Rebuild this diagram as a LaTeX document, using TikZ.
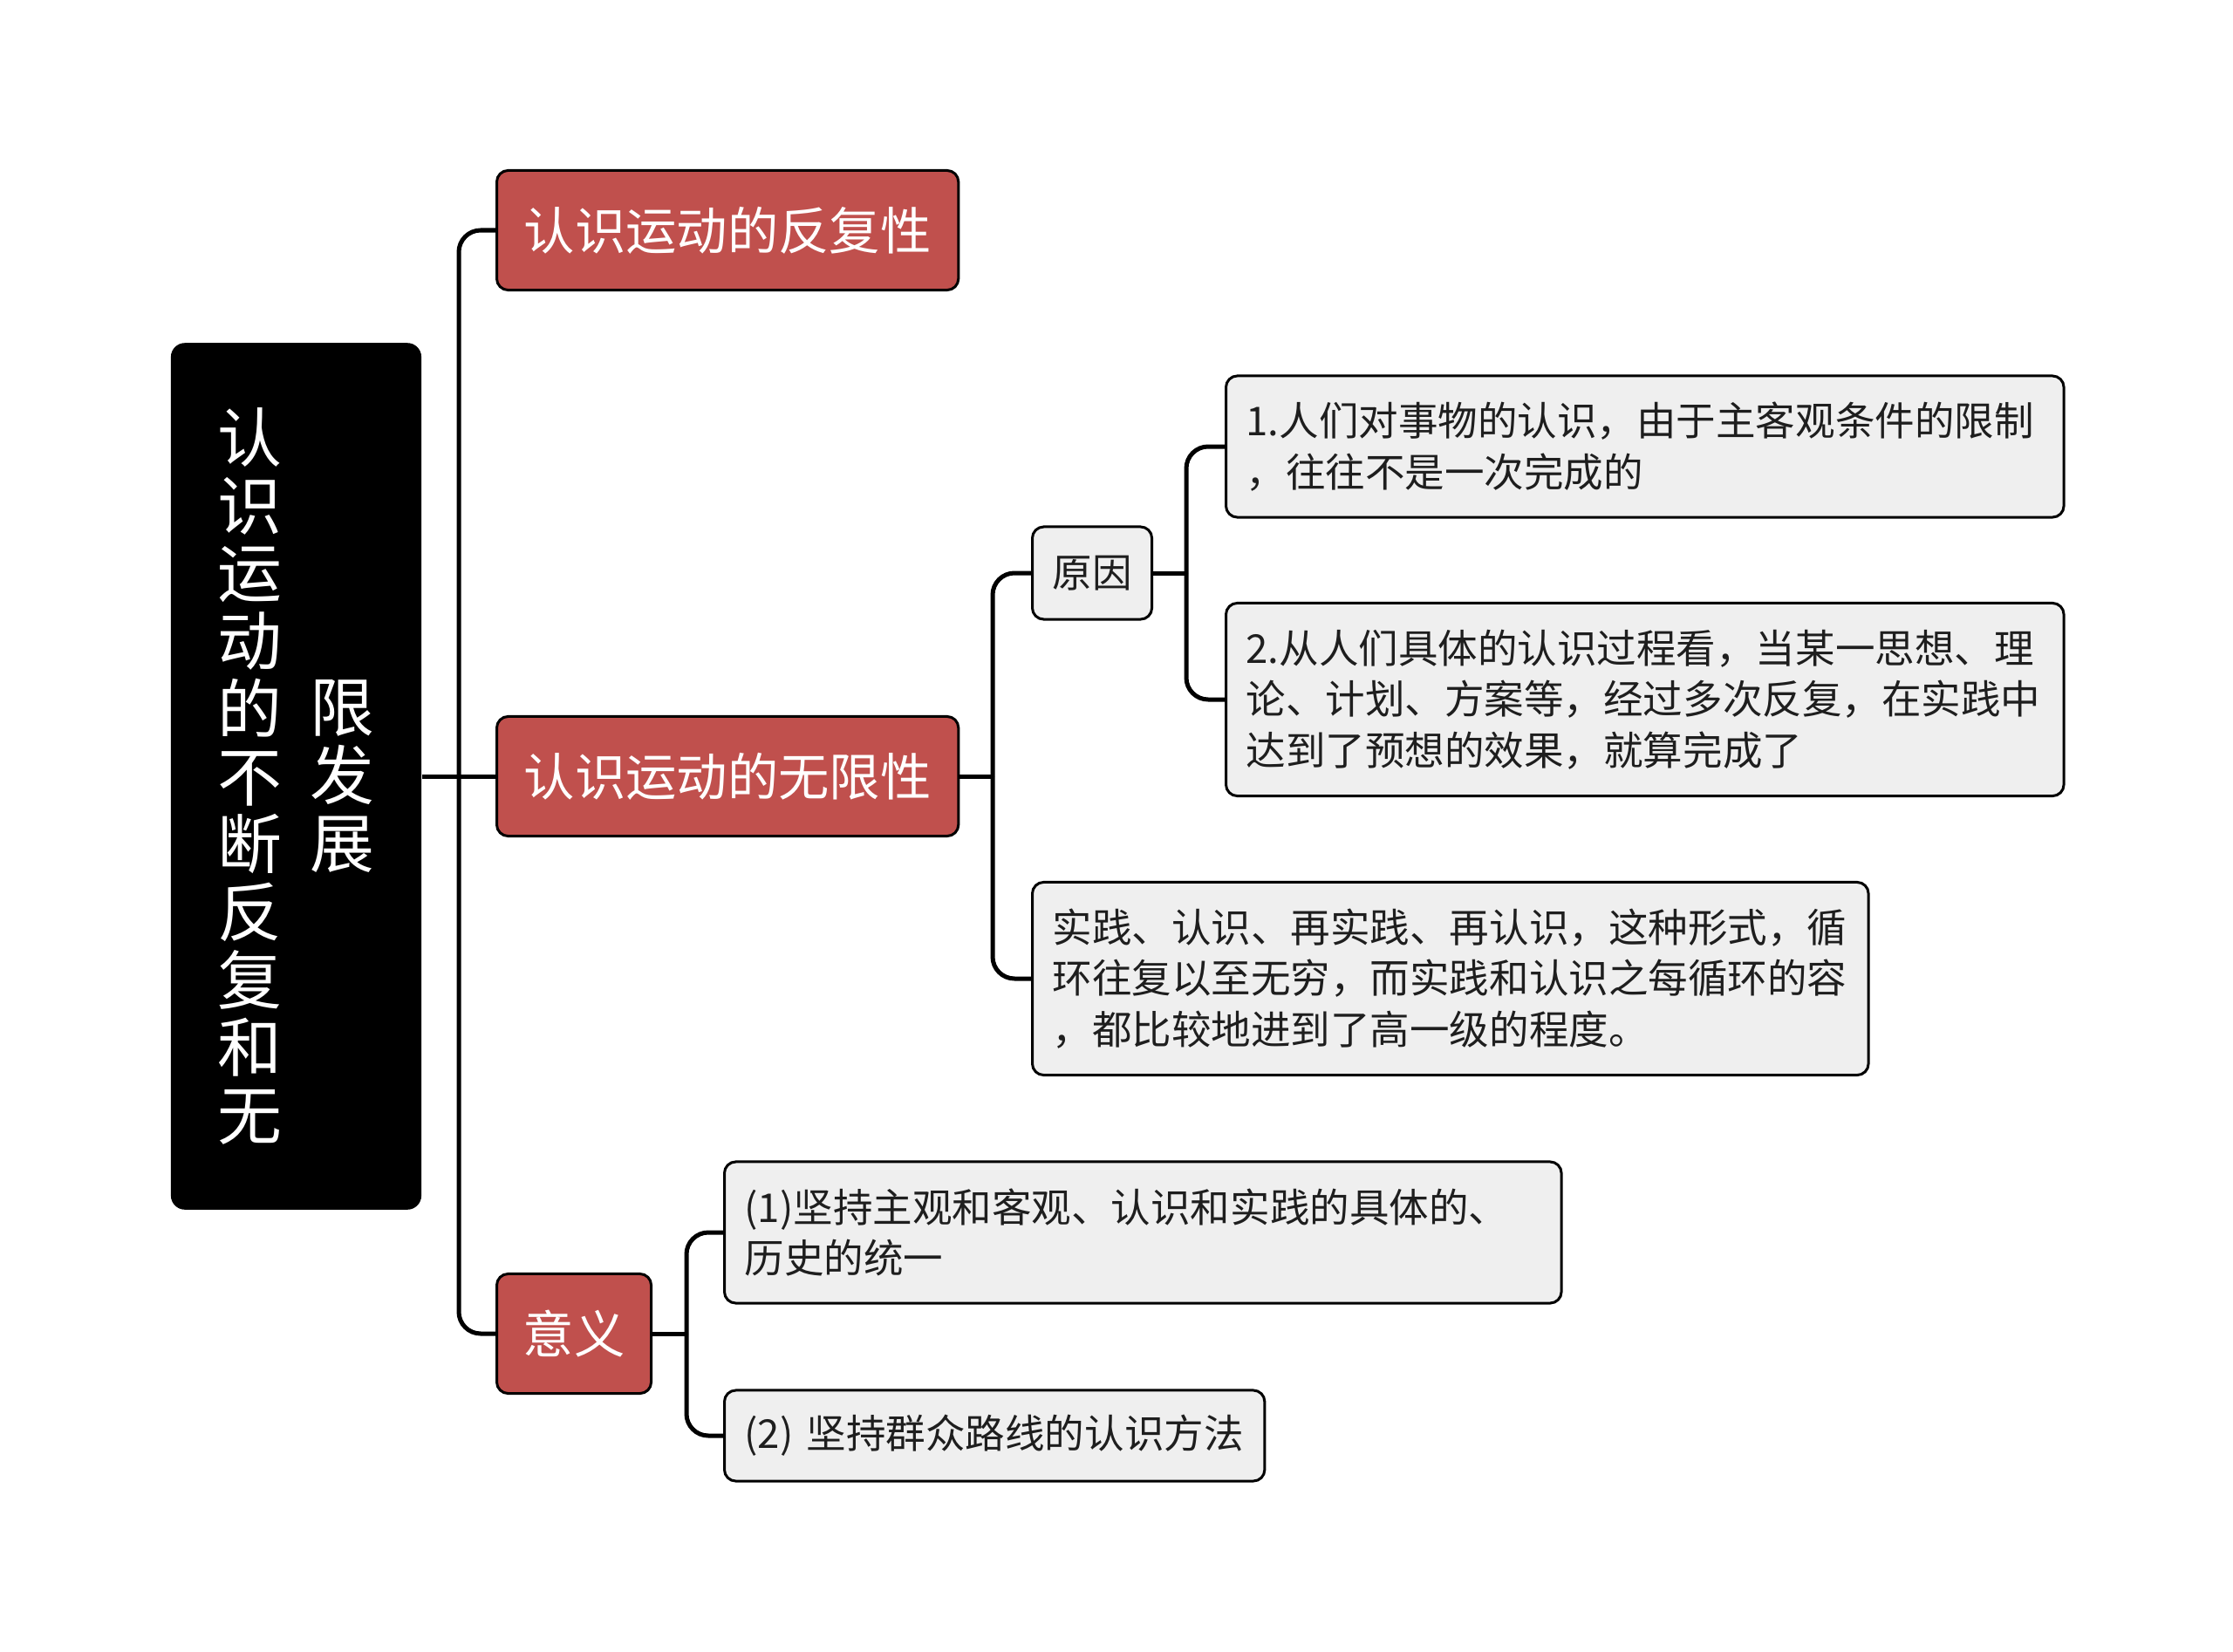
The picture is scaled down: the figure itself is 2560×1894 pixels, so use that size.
\documentclass[tikz,border=0pt]{standalone}
\usepackage{fontspec}
\newfontfamily\cjk{Noto Sans CJK SC}
\usepackage{tikz}
\usetikzlibrary{positioning}
\definecolor{TopicRed}{HTML}{C0504D}
\definecolor{LeafGray}{HTML}{EFEFEF}
\definecolor{LeafText}{HTML}{1E1E1E}
% one column of stacked characters
\newcommand{\vstack}[1]{\parbox[c]{0.8cm}{\centering\baselineskip=22.1pt\lineskiplimit=-100pt\lineskip=0pt #1\par}}

\begin{document}
\begin{tikzpicture}[x=0.01cm, y=-0.01cm,
  root/.style={rectangle, rounded corners=0.16cm, fill=black, text=white,
               minimum width=2.87cm, minimum height=9.93cm, inner sep=0pt,
               font=\cjk\fontsize{21pt}{22pt}\selectfont},
  topic/.style={rectangle, rounded corners=0.13cm, draw=black, line width=0.03cm,
                fill=TopicRed, text=white, minimum height=1.37cm, anchor=west,
                inner sep=0pt, font=\cjk\fontsize{16.6pt}{20pt}\selectfont},
  leaf/.style={rectangle, rounded corners=0.13cm, draw=black, line width=0.03cm,
               fill=LeafGray, text=LeafText, anchor=west, inner xsep=0.23cm,
               inner ysep=0pt, align=left, font=\cjk\fontsize{12.95pt}{16.7pt}\selectfont},
  conn/.style={line width=0.05cm, rounded corners=0.25cm}
]
\useasboundingbox (0,0) rectangle (2560,1894);

%% ---- Root (vertical title) ----
\node[root] (root) at (339.5, 890) {\vstack{认\\识\\运\\动\\的\\不\\断\\反\\复\\和\\无}\hspace{0.26cm}\vstack{限\\发\\展}};

%% ---- Level 1 topics ----
\node[topic, minimum width=5.29cm] (repeat)   at (568, 264)  {认识运动的反复性};
\node[topic, minimum width=5.29cm] (infinite) at (568, 890)  {认识运动的无限性};
\node[topic, minimum width=1.77cm] (meaning)  at (568, 1529) {意义};

%% ---- Level 2 / 3 leaves ----
\node[leaf, text width=0.91cm, minimum height=1.06cm] (cause) at (1182, 657) {原因};
\node[leaf, text width=9.14cm, minimum height=1.62cm] (reason1) at (1404, 512) {1.人们对事物的认识，由于主客观条件的限制\\，往往不是一次完成的};
\node[leaf, text width=9.14cm, minimum height=2.21cm] (reason2) at (1404, 802) {2.从人们具体的认识过程看，当某一思想、理\\论、计划、方案等，经过多次反复，在实践中\\达到了预想的效果，就算完成了};
\node[leaf, text width=9.12cm, minimum height=2.21cm] (cycle) at (1182, 1122) {实践、认识、再实践、再认识，这种形式，循\\环往复以至无穷，而实践和认识之每循环的容\\，都比较地进到了高一级的程度。};
\node[leaf, text width=9.13cm, minimum height=1.62cm] (mean1) at (829, 1413) {(1)坚持主观和客观、认识和实践的具体的、\\历史的统一};
\node[leaf, text width=5.73cm, minimum height=1.04cm] (mean2) at (829, 1646) {(2) 坚持群众路线的认识方法};

%% ---- Forks ----
\coordinate (rootfork)  at (526, 890);
\coordinate (infork)    at (1138, 890);
\coordinate (causefork) at (1360, 657);
\coordinate (meanfork)  at (787, 1529);

%% ---- Connectors ----
\draw[conn] (root.east) -- (rootfork);
\draw[conn] (rootfork) |- (repeat.west);
\draw[conn] (rootfork) -- (infinite.west);
\draw[conn] (rootfork) |- (meaning.west);

\draw[conn] (infinite.east) -- (infork);
\draw[conn] (infork) |- (cause.west);
\draw[conn] (infork) |- (cycle.west);

\draw[conn] (cause.east) -- (causefork);
\draw[conn] (causefork) |- (reason1.west);
\draw[conn] (causefork) |- (reason2.west);

\draw[conn] (meaning.east) -- (meanfork);
\draw[conn] (meanfork) |- (mean1.west);
\draw[conn] (meanfork) |- (mean2.west);

\end{tikzpicture}
\end{document}
